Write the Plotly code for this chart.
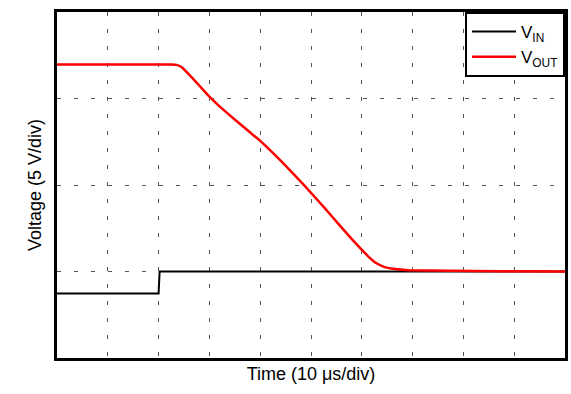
import plotly.graph_objects as go

# Data in divisions (x: 10 us/div, y: 5 V/div)
vin_t = [0, 2.0, 2.02, 10]
vin_v = [0.745, 0.745, 1.0, 1.0]

vout_t = [0, 2.25, 2.353, 2.451, 2.569, 2.725, 2.882, 3.020, 3.216, 3.510, 3.804, 4.000, 4.294,
          4.588, 4.849, 5.014, 5.275, 5.569, 5.804, 6.006, 6.157, 6.288, 6.451, 6.647, 6.941,
          7.725, 8.706, 10.0]
vout_v = [3.393, 3.393, 3.389, 3.364, 3.295, 3.198, 3.097, 3.009, 2.900, 2.751, 2.606, 2.510, 2.345,
          2.170, 2.007, 1.901, 1.729, 1.531, 1.375, 1.246, 1.158, 1.095, 1.051, 1.028, 1.015,
          1.008, 1.003, 1.0]

FONT = "Liberation Sans, Arial, Helvetica, sans-serif"

fig = go.Figure()
fig.add_trace(go.Scatter(x=vin_t, y=vin_v, mode="lines", name="V<sub>IN</sub>",
                         line=dict(color="black", width=2)))
fig.add_trace(go.Scatter(x=vout_t, y=vout_v, mode="lines", name="V<sub>OUT</sub>",
                         line=dict(color="#ff0000", width=2.5, shape="spline", smoothing=0.3)))

axis_common = dict(
    showline=True, linecolor="black", linewidth=3, mirror=True,
    showgrid=True, gridcolor="#555555", gridwidth=1, griddash="4px,13px",
    showticklabels=False, ticks="", zeroline=False, dtick=1, automargin=False,
)

fig.update_xaxes(range=[0, 10], title=dict(text="Time (10 μs/div)", standoff=8,
                 font=dict(size=18, color="black", family=FONT)), **axis_common)
fig.update_yaxes(range=[0, 4], title=dict(text="Voltage (5 V/div)", standoff=8,
                 font=dict(size=18, color="black", family=FONT)), **axis_common)

fig.update_layout(
    width=571, height=394,
    margin=dict(l=57, r=6, t=12, b=36),
    plot_bgcolor="white", paper_bgcolor="white",
    font=dict(family=FONT, color="black"),
    showlegend=True,
    legend=dict(x=1, xanchor="right", y=1, yanchor="top",
                bordercolor="black", borderwidth=2, bgcolor="white",
                font=dict(size=17, family=FONT, color="black"),
                itemwidth=44, tracegroupgap=0),
)

fig.write_html("out.html", config={"displayModeBar": False},
               post_script="document.body.style.margin='0';document.body.style.overflow='hidden';")
